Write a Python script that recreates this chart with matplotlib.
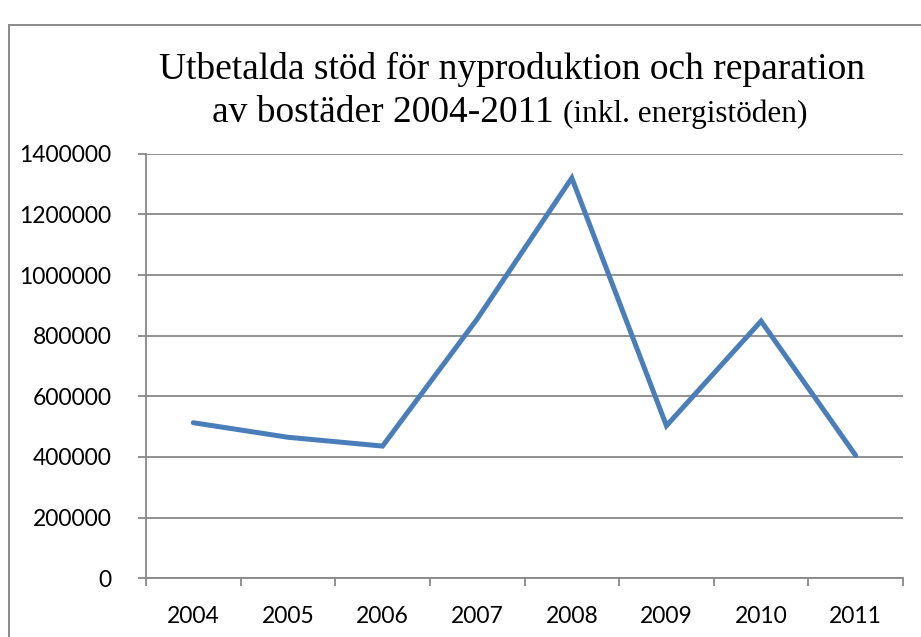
import matplotlib
matplotlib.use("Agg")
import matplotlib.pyplot as plt
from matplotlib.patches import Rectangle

years = ["2004", "2005", "2006", "2007", "2008", "2009", "2010", "2011"]
values = [513000, 465000, 436000, 855000, 1320000, 503000, 848000, 405000]
yticks = [0, 200000, 400000, 600000, 800000, 1000000, 1200000, 1400000]

W, H = 921, 637
fig = plt.figure(figsize=(W / 100, H / 100), dpi=100)

grid_c = "#888888"
ax = fig.add_axes([146 / W, 1 - 578.3 / H, (903 - 146) / W, (578.3 - 153.7) / H])
x = list(range(len(years)))
ax.plot(x, values, color="#4A7EBB", lw=3.6, solid_joinstyle="miter", solid_capstyle="round", zorder=3)
ax.set_xlim(-0.5, len(years) - 0.5)
ax.set_ylim(0, 1400000)
ax.set_yticks(yticks)
ax.set_yticklabels([str(v) for v in yticks])
ax.set_xticks(x)
ax.set_xticklabels(years)
ax.set_xticks([i - 0.5 for i in range(len(years) + 1)], minor=True)
ax.tick_params(axis="x", which="major", length=0, pad=20)
ax.tick_params(axis="x", which="minor", length=6, color=grid_c, width=1.3, direction="out")
ax.tick_params(axis="y", length=6, color=grid_c, width=1.3, direction="out", pad=19)
for lab in ax.get_xticklabels() + ax.get_yticklabels():
    lab.set_fontfamily("Lato")
    lab.set_fontsize(16.5)
    lab.set_color("black")
ax.grid(axis="y", color=grid_c, lw=1.3)
ax.set_axisbelow(True)
for s in ["top", "right"]:
    ax.spines[s].set_visible(False)
for s in ["left", "bottom"]:
    ax.spines[s].set_color(grid_c)
    ax.spines[s].set_linewidth(1.3)

# border
fig.patches.append(Rectangle((8.5 / W, -0.1), 1.2, 1 - 25 / H + 0.1, transform=fig.transFigure,
                             fill=False, edgecolor="#8a8a8a", lw=1.4))

# title
fig.text(512 / W, 1 - 79 / H, "Utbetalda stöd för nyproduktion och reparation",
         family="Liberation Serif", fontsize=27, ha="center", va="baseline")
fig.canvas.draw()
r = fig.canvas.get_renderer()
t1 = fig.text(0, 1 - 122 / H, "av bostäder 2004-2011 ", family="Liberation Serif", fontsize=27,
              ha="left", va="baseline")
t2 = fig.text(0, 1 - 122 / H, "(inkl. energistöden)", family="Liberation Serif", fontsize=22.5,
              ha="left", va="baseline")
w1 = t1.get_window_extent(r).width
w2 = t2.get_window_extent(r).width
start = 510 - (w1 + w2) / 2
t1.set_x(start / W)
t2.set_x((start + w1) / W)

fig.savefig("out.png", dpi=100)
